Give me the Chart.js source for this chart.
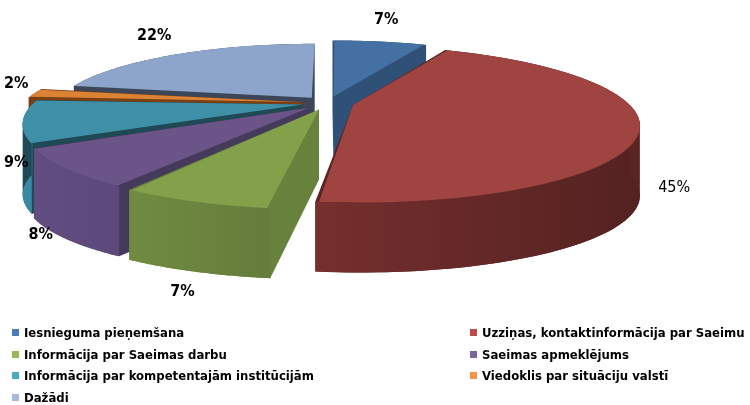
<!DOCTYPE html>
<html>
<head>
<meta charset="utf-8">
<script src="https://cdn.jsdelivr.net/npm/chart.js@4.4.1/dist/chart.umd.min.js"></script>
<style>
  body { margin: 0; background: #fff; }
  #wrap { position: relative; width: 750px; height: 405px; }
  #legend { position: absolute; left: 0; top: 0; width: 750px; height: 405px; pointer-events: none;
            font: bold 13px "DejaVu Sans Condensed", "DejaVu Sans", sans-serif; color: #000; }
  .item { position: absolute; white-space: nowrap; line-height: 14px; }
  .item i { display: inline-block; width: 7px; height: 7px; margin-right: 5px; vertical-align: 1px; }
</style>
</head>
<body>
<div id="wrap">
  <canvas id="pieChart" width="750" height="405"></canvas>
  <div id="legend"></div>
</div>
<script>
// data
var categories = [
  'Iesnieguma pieņemšana',
  'Uzziņas, kontaktinformācija par Saeimu',
  'Informācija par Saeimas darbu',
  'Saeimas apmeklējums',
  'Informācija par kompetentajām institūcijām',
  'Viedoklis par situāciju valstī',
  'Dažādi'
];
var shares = [7, 45, 7, 8, 9, 2, 22];

// colours: top face, cut faces, outer rim wall, legend
var topColors = ['#4470a4', '#a04442', '#83a04b', '#6b5488', '#3f8fa6', '#dc8235', '#8ea5cb'];
var cutColors = ['#2f5077', '#5a2423', '#67823d', '#463a5c', '#1f4a55', '#7a3f12', '#3c4658'];
var rimColors = ['#3a6090', '#8c3837', '#748f44', '#5e4a7d', '#37839a', '#c87530', '#7a8fb0'];
var legendColors = ['#4a7ebb', '#be4b48', '#98b954', '#7d60a0', '#46aac5', '#f69546', '#a5b9da'];
var labelBold = [true, false, true, true, true, true, true];

// tilted pie seen in perspective
var view = { cx: 328, cy: 103, rx: 257, ry: 68.2, persp: 0.2254, depth: 70 };

function shade(hex, f) {
  var n = parseInt(hex.slice(1), 16);
  var r = Math.min(255, Math.round((n >> 16) * f));
  var g = Math.min(255, Math.round(((n >> 8) & 255) * f));
  var b = Math.min(255, Math.round((n & 255) * f));
  return 'rgb(' + r + ',' + g + ',' + b + ')';
}

function hull(pts) {
  pts = pts.slice().sort(function(a, b) { return a[0] - b[0] || a[1] - b[1]; });
  function cross(o, a, b) { return (a[0] - o[0]) * (b[1] - o[1]) - (a[1] - o[1]) * (b[0] - o[0]); }
  var lower = [], upper = [];
  pts.forEach(function(p) {
    while (lower.length >= 2 && cross(lower[lower.length - 2], lower[lower.length - 1], p) <= 0) lower.pop();
    lower.push(p);
  });
  for (var i = pts.length - 1; i >= 0; i--) {
    var p = pts[i];
    while (upper.length >= 2 && cross(upper[upper.length - 2], upper[upper.length - 1], p) <= 0) upper.pop();
    upper.push(p);
  }
  upper.pop(); lower.pop();
  return lower.concat(upper);
}

var pie3d = {
  id: 'pie3d',
  beforeDatasetsDraw: function(chart) {
    var ctx = chart.ctx;
    var arcs = chart.getDatasetMeta(0).data;
    var R = arcs[0].outerRadius, ax = arcs[0].x, ay = arcs[0].y;
    var W = chart.width, D = view.depth, p = view.persp;

    function proj(x, y) {
      var u = (x - ax) / R, v = (y - ay) / R, w = 1 - p * v;
      return [view.cx + u * view.rx / w, view.cy + v * view.ry / w];
    }
    function inv(Y) {
      var d = Y - view.cy;
      return d / (view.ry + p * d);
    }
    // same geometry the arc element uses (offset and radius growth)
    function geom(a) {
      var off = (a.options.offset || 0) / 4;
      var mid = (a.startAngle + a.endAngle) / 2;
      var circ = a.endAngle - a.startAngle;
      return {
        x: a.x + Math.cos(mid) * off, y: a.y + Math.sin(mid) * off,
        r: a.outerRadius + off * (1 - Math.sin(Math.min(Math.PI, circ))),
        mid: mid, s: a.startAngle, e: a.endAngle
      };
    }
    function rim(g, t0, t1, n) {
      var pts = [];
      for (var k = 0; k <= n; k++) {
        var t = t0 + (t1 - t0) * k / n;
        pts.push(proj(g.x + Math.cos(t) * g.r, g.y + Math.sin(t) * g.r));
      }
      return pts;
    }
    function poly(pts) {
      ctx.beginPath();
      pts.forEach(function(q, k) { k ? ctx.lineTo(q[0], q[1]) : ctx.moveTo(q[0], q[1]); });
      ctx.closePath();
      ctx.fill();
    }

    // side walls, back slices first
    var order = arcs.map(function(a, i) { return i; }).sort(function(i, j) {
      return Math.sin(geom(arcs[i]).mid) - Math.sin(geom(arcs[j]).mid);
    });
    order.forEach(function(i) {
      var g = geom(arcs[i]);
      var top = rim(g, g.s, g.e, 60);
      top.push(proj(g.x, g.y));
      var all = top.concat(top.map(function(q) { return [q[0], q[1] + D]; }));
      ctx.fillStyle = cutColors[i];
      poly(hull(all));
      var t0 = Math.max(g.s, 0), t1 = Math.min(g.e, Math.PI);
      if (t1 > t0) {
        var front = rim(g, t0, t1, 60);
        var grad = ctx.createLinearGradient(view.cx - 1.2 * view.rx, 0, view.cx + 1.2 * view.rx, 0);
        grad.addColorStop(0, shade(rimColors[i], 1.05));
        grad.addColorStop(1, shade(rimColors[i], 0.6));
        ctx.fillStyle = grad;
        poly(front.concat(front.slice().reverse().map(function(q) { return [q[0], q[1] + D]; })));
      }
    });

    // tops: arc elements drawn row by row, each row with its own scale
    var Y0 = Math.floor(proj(ax, ay - 1.3 * R)[1]) - 1;
    var Y1 = Math.ceil(proj(ax, ay + 1.3 * R)[1]) + 1;
    for (var Y = Y0; Y < Y1; Y++) {
      var va = inv(Y), vb = inv(Y + 1);
      var ya = ay + va * R, yb = ay + vb * R;
      var k = view.rx / (R * (1 - p * (va + vb) / 2));
      ctx.save();
      ctx.beginPath();
      ctx.rect(0, Y, W, 1);
      ctx.clip();
      ctx.translate(view.cx, Y);
      ctx.scale(k, 1 / (yb - ya));
      ctx.translate(-ax, -ya);
      arcs.forEach(function(a) { a.draw(ctx); });
      ctx.restore();
    }

    // percentage labels
    ctx.save();
    ctx.fillStyle = '#000';
    ctx.textAlign = 'center';
    ctx.textBaseline = 'middle';
    arcs.forEach(function(a, i) {
      ctx.font = (labelBold[i] ? 'bold ' : '') + '16px "DejaVu Sans Condensed", "DejaVu Sans", sans-serif';
      var g = geom(a);
      var c = Math.cos(g.mid), s = Math.sin(g.mid);
      var txt = shares[i] + '%';
      var hw = ctx.measureText(txt).width / 2, hh = 7;
      var q = proj(a.x + c * (g.r + 0.12 * R), a.y + s * (g.r + 0.12 * R));
      var lx = q[0] + c * (hw + 14);
      var ly = q[1] + s * (hh + 6) + (s > 0 ? D * (0.65 + 0.45 * s * s) + 9 * c + 6 * s * s : -8);
      lx = Math.max(hw + 4, Math.min(W - hw - 4, lx));
      ctx.fillText(txt, lx, ly);
    });
    ctx.restore();
    return false;
  }
};

var ctx = document.getElementById('pieChart').getContext('2d');
var pieChart = new Chart(ctx, {
  type: 'pie',
  data: {
    labels: categories,
    datasets: [{
      data: shares,
      backgroundColor: topColors,
      borderWidth: 0,
      offset: 68,
      hoverOffset: 0
    }]
  },
  options: {
    responsive: false,
    animation: false,
    events: [],
    layout: { padding: 0 },
    plugins: {
      legend: { display: false },
      tooltip: { enabled: false }
    }
  },
  plugins: [pie3d]
});

// legend, two columns
var legend = document.getElementById('legend');
categories.forEach(function(name, i) {
  var el = document.createElement('div');
  el.className = 'item';
  el.style.left = (i % 2 ? 470 : 12) + 'px';
  el.style.top = (326 + Math.floor(i / 2) * 21.7) + 'px';
  el.innerHTML = '<i style="background:' + legendColors[i] + '"></i>' + name;
  legend.appendChild(el);
});
</script>
</body>
</html>
